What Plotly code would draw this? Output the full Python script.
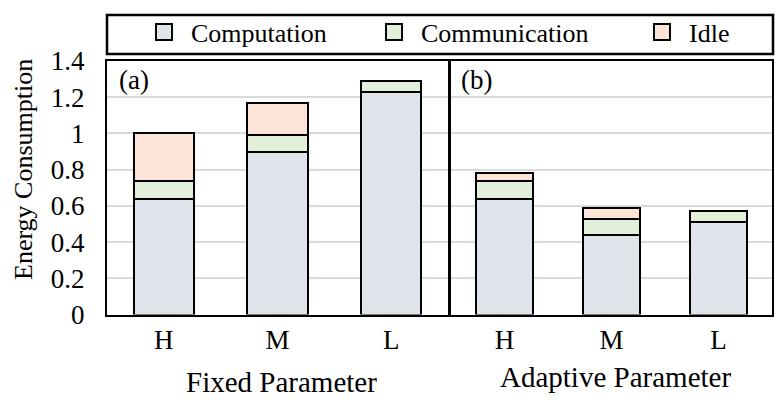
import plotly.graph_objects as go

# данные
levels = ["H", "M", "L"]

fixed_computation = [0.64, 0.90, 1.23]
fixed_communication = [0.10, 0.09, 0.06]
fixed_idle = [0.26, 0.18, 0.00]

adaptive_computation = [0.64, 0.44, 0.51]
adaptive_communication = [0.10, 0.09, 0.06]
adaptive_idle = [0.04, 0.06, 0.00]

series_names = ["Computation", "Communication", "Idle"]
series_colors = ["#dfe4eb", "#e2efda", "#fce4d6"]

y_ticks = [0, 0.2, 0.4, 0.6, 0.8, 1.0, 1.2, 1.4]

W, H = 784, 406
OFFSET = 8  # отступ body у страницы
FONT = "Liberation Serif"


def px_x(v):
    return (v - OFFSET) / W


def px_y(v):
    return 1 - (v - OFFSET) / H


fig = go.Figure()

panels = [
    ("x", "y", [fixed_computation, fixed_communication, fixed_idle]),
    ("x2", "y2", [adaptive_computation, adaptive_communication, adaptive_idle]),
]

for xa, ya, values in panels:
    for name, color, vals in zip(series_names, series_colors, values):
        fig.add_trace(go.Bar(
            x=levels, y=vals, name=name,
            xaxis=xa, yaxis=ya,
            marker=dict(color=color, line=dict(color="black", width=2)),
            legendgroup=name, showlegend=False,
        ))

# легенда: по отдельной легенде на каждую серию, чтобы расставить как в оригинале
legend_names = ["legend", "legend2", "legend3"]
legend_x = [137, 367, 635]
for name, color, lg in zip(series_names, series_colors, legend_names):
    fig.add_trace(go.Scatter(
        x=[None], y=[None], mode="markers", name=name,
        marker=dict(symbol="square", size=22, color=color,
                    line=dict(color="black", width=2)),
        legendgroup=name, legend=lg,
    ))

legend_style = dict(
    orientation="h", yanchor="middle", y=px_y(32), xanchor="left",
    font=dict(family=FONT, size=26, color="black"),
    bgcolor="rgba(0,0,0,0)", borderwidth=0, itemwidth=44,
)

axis_common = dict(
    showline=True, mirror=True, linecolor="black", linewidth=2,
    ticks="", showgrid=False,
    tickfont=dict(family=FONT, size=27, color="black"),
    ticklabelstandoff=0,
)
yaxis_common = dict(
    range=[0, 1.4], tickvals=y_ticks,
    showline=True, mirror=True, linecolor="black", linewidth=2,
    showgrid=True, gridcolor="#d9d9d9", gridwidth=1.5,
    zeroline=False, ticks="",
    domain=[px_y(314.5), px_y(61)],
)

fig.update_layout(
    width=W, height=H,
    margin=dict(l=0, r=0, t=0, b=0, autoexpand=False),
    paper_bgcolor="white", plot_bgcolor="white",
    barmode="stack", bargap=0.47,
    font=dict(family=FONT, color="black"),
    xaxis=dict(domain=[px_x(107), px_x(448)], anchor="y", **axis_common),
    xaxis2=dict(domain=[px_x(451), px_x(772)], anchor="y2", **axis_common),
    yaxis=dict(anchor="x", tickfont=dict(family=FONT, size=27, color="black"),
               ticklabelstandoff=15, **yaxis_common),
    yaxis2=dict(anchor="x2", showticklabels=False, matches="y", **yaxis_common),
    legend=dict(x=px_x(legend_x[0]), **legend_style),
    legend2=dict(x=px_x(legend_x[1]), **legend_style),
    legend3=dict(x=px_x(legend_x[2]), **legend_style),
)

# рамка вокруг легенды
fig.add_shape(type="rect", xref="paper", yref="paper",
              x0=px_x(107), x1=px_x(773), y0=px_y(54), y1=px_y(15),
              line=dict(color="black", width=2.5))

annotations = [
    ("Energy Consumption", 23, 170, 26, -90),
    ("(a)", 134, 80, 27, 0),
    ("(b)", 476, 80, 27, 0),
    ("Fixed Parameter", 281, 382, 29, 0),
    ("Adaptive Parameter", 615, 377, 29, 0),
]
for text, ax_, ay_, size, angle in annotations:
    fig.add_annotation(
        text=text, xref="paper", yref="paper",
        x=px_x(ax_), y=px_y(ay_), xanchor="center", yanchor="middle",
        showarrow=False, textangle=angle,
        font=dict(family=FONT, size=size, color="black"),
    )

fig.write_html("out.html")
